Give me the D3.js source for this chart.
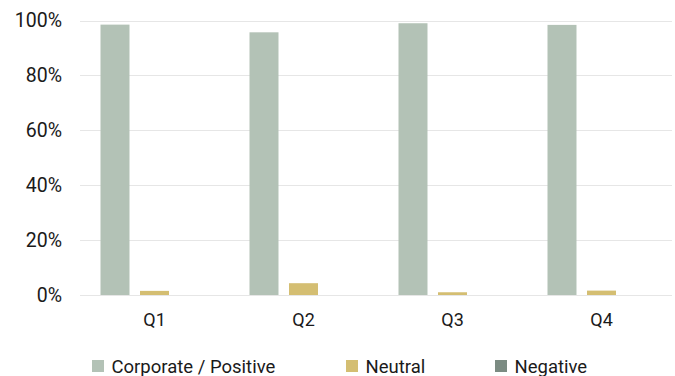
<!DOCTYPE html>
<html><head><meta charset="utf-8">
<script src="https://cdn.jsdelivr.net/npm/d3@7"></script>
<style>
html,body{margin:0;padding:0;background:#fff;}
svg{display:block;font-family:Roboto,"Noto Sans",sans-serif;}
</style></head>
<body><svg id="c" width="675" height="376"></svg>
<script>
const categories = ["Q1","Q2","Q3","Q4"];
const seriesNames = ["Corporate / Positive","Neutral","Negative"];
const corporate = [98.5, 95.7, 99.0, 98.4];
const neutral = [1.5, 4.3, 1.0, 1.6];
const negative = [0, 0, 0, 0];
const yTicks = [0, 20, 40, 60, 80, 100];
const colors = ["#b3c2b6", "#d4be72", "#7b8b82"];

(function () {
const seriesValues = [corporate, neutral, negative];
const svg = d3.select("#c");
const pLeft = 80, pRight = 676, pTop = 20.5, pBottom = 295;

const x0 = d3.scaleBand().domain(categories).range([pLeft, pRight]);
const x1 = d3.scaleBand().domain(seriesNames).range([20.5, 128.5]).paddingInner(0.266);
const y = d3.scaleLinear().domain([0, 100]).range([pBottom, pTop]);

// gridlines
svg.append("g").selectAll("line").data(yTicks).join("line")
  .attr("x1", pLeft).attr("x2", 672)
  .attr("y1", d => Math.round(y(d)) + 0.5).attr("y2", d => Math.round(y(d)) + 0.5)
  .attr("stroke", "#e6e6e6").attr("stroke-width", 1);

// y labels
const yAxis = d3.axisLeft(y).tickValues(yTicks).tickFormat(d => d + "%").tickSize(0).tickPadding(0);
const ya = svg.append("g").attr("transform", `translate(62,0)`).call(yAxis)
  .attr("font-size", 19.5).attr("font-family", "Roboto,sans-serif");
ya.select(".domain").remove();
ya.selectAll("text").attr("fill", "#1a1a1a");

// x labels
const xAxis = d3.axisBottom(x0).tickSize(0).tickPadding(0);
const xa = svg.append("g").attr("transform", `translate(0,${pBottom + 18})`).call(xAxis)
  .attr("font-size", 18).attr("font-family", "Roboto,sans-serif");
xa.select(".domain").remove();
xa.selectAll("text").attr("fill", "#1a1a1a");

// bars
const groups = svg.append("g").selectAll("g").data(categories).join("g")
  .attr("transform", d => `translate(${x0(d)},0)`);
groups.selectAll("rect").data((c, i) => seriesNames.map((s, j) => ({s, v: seriesValues[j][i], j})))
  .join("rect")
  .attr("x", d => x1(d.s)).attr("width", x1.bandwidth())
  .attr("y", d => y(d.v)).attr("height", d => pBottom - y(d.v))
  .attr("fill", d => colors[d.j]);

// legend
const legendX = [92, 346, 495];
const lg = svg.append("g").selectAll("g").data(seriesNames).join("g")
  .attr("transform", (d, i) => `translate(${legendX[i]},360)`);
lg.append("rect").attr("width", 12).attr("height", 12).attr("fill", (d, i) => colors[i]);
lg.append("text").attr("x", 19.5).attr("y", 12.5).text(d => d)
  .attr("font-size", 18.5).attr("fill", "#1a1a1a");
})();
</script></body></html>
